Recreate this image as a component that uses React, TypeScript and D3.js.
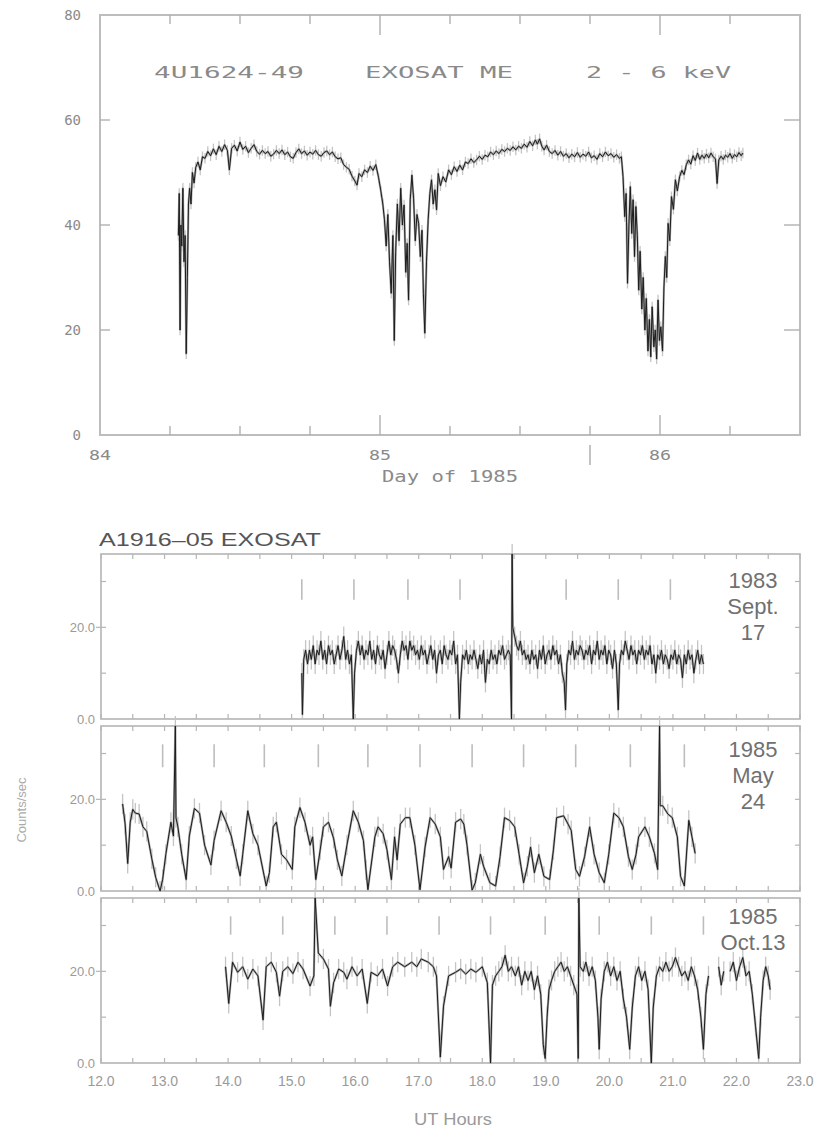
import React from "react";
import * as d3 from "d3";

// ---- 4U1624-49 light curve (day of 1985, counts) ----
const topCurve: [number, number][] = [
  [84.280, 38], [84.283, 46], [84.286, 20], [84.289, 40], [84.292, 36], [84.296, 47], [84.300, 33],
  [84.304, 38], [84.308, 15.5], [84.312, 30], [84.316, 44], [84.320, 47], [84.325, 44], [84.330, 50],
  [84.336, 48], [84.342, 51], [84.350, 52], [84.358, 50.5], [84.366, 53], [84.375, 52.7], [84.385, 54],
  [84.395, 53.2], [84.405, 54.5], [84.415, 53.4], [84.425, 55], [84.435, 54], [84.445, 55.3], [84.455, 54.2],
  [84.462, 50.5], [84.470, 54.6], [84.480, 55.2], [84.490, 54.1], [84.500, 55.8], [84.510, 54.4], [84.520, 55],
  [84.530, 53.8], [84.540, 54.6], [84.550, 55.3], [84.560, 54], [84.570, 53.5], [84.580, 54.2], [84.590, 53.6],
  [84.600, 54], [84.610, 53.1], [84.620, 53.5], [84.630, 54.2], [84.640, 53.6], [84.650, 54.3], [84.660, 53.4],
  [84.670, 53.9], [84.680, 53], [84.690, 52.7], [84.700, 53.8], [84.710, 54.5], [84.720, 53.6], [84.730, 54.1],
  [84.740, 53.3], [84.750, 53.9], [84.760, 53.5], [84.770, 54.2], [84.780, 53.4], [84.790, 53.1], [84.800, 53.8],
  [84.810, 54.1], [84.820, 53.4], [84.830, 53.9], [84.840, 53], [84.850, 52.6], [84.860, 52.8], [84.870, 51.5],
  [84.880, 51], [84.890, 50.6], [84.900, 49.3], [84.910, 48.4], [84.918, 47.6], [84.925, 49.8], [84.935, 49.2],
  [84.945, 50.5], [84.955, 50], [84.965, 51.2], [84.975, 50.4], [84.985, 51.5], [84.995, 49], [85.003, 46.5],
  [85.010, 44], [85.016, 41], [85.022, 36], [85.028, 42], [85.034, 33], [85.040, 27], [85.046, 38], [85.051, 18],
  [85.056, 35], [85.062, 44], [85.068, 37], [85.074, 47], [85.080, 40], [85.086, 43.8], [85.092, 31],
  [85.097, 36.5], [85.102, 25.7], [85.108, 44.8], [85.114, 49.5], [85.120, 45], [85.126, 37], [85.132, 42],
  [85.138, 40.3], [85.144, 34], [85.150, 39], [85.155, 27], [85.160, 19.4], [85.166, 33], [85.172, 41],
  [85.178, 46], [85.184, 48.6], [85.190, 44], [85.196, 46.7], [85.202, 42.9], [85.208, 49.8], [85.216, 47.5],
  [85.225, 49.2], [85.235, 48.2], [85.245, 50.5], [85.255, 49.6], [85.265, 51.1], [85.275, 50.2], [85.285, 51.4],
  [85.295, 50.5], [85.305, 52], [85.315, 51.7], [85.325, 52.6], [85.335, 51.9], [85.345, 52.4], [85.355, 53.1],
  [85.365, 52.5], [85.375, 53.3], [85.385, 53], [85.395, 53.9], [85.405, 53.4], [85.415, 54.1], [85.425, 53.6],
  [85.435, 54.4], [85.445, 54], [85.455, 54.6], [85.465, 54.2], [85.475, 54.9], [85.485, 54.3], [85.495, 55],
  [85.505, 54.6], [85.515, 55.4], [85.525, 54.8], [85.535, 55.9], [85.545, 55.1], [85.555, 56.2], [85.562, 55.4],
  [85.570, 56.4], [85.578, 55], [85.586, 54.3], [85.595, 55.2], [85.605, 54], [85.615, 53.6], [85.625, 54.2],
  [85.635, 53.3], [85.645, 54], [85.655, 53.1], [85.665, 53.6], [85.675, 52.8], [85.685, 53.5], [85.695, 53],
  [85.705, 53.8], [85.715, 52.9], [85.725, 53.5], [85.735, 53.1], [85.745, 53.9], [85.755, 52.8], [85.765, 53.2],
  [85.775, 52.5], [85.785, 53.6], [85.795, 53], [85.805, 53.9], [85.815, 53.2], [85.825, 53.6], [85.835, 52.9],
  [85.845, 53.4], [85.855, 52.7], [85.862, 53], [85.868, 49.2], [85.874, 41.6], [85.879, 46], [85.884, 28.9],
  [85.889, 40], [85.894, 47.3], [85.899, 38.4], [85.904, 44.8], [85.909, 34], [85.914, 43.5], [85.919, 38],
  [85.924, 27.6], [85.929, 35], [85.935, 24], [85.940, 30], [85.946, 20], [85.951, 26], [85.957, 16], [85.962, 22],
  [85.967, 14.9], [85.972, 24.4], [85.978, 16.8], [85.983, 20], [85.988, 14.5], [85.993, 25.7], [85.998, 18],
  [86.003, 20.6], [86.009, 16], [86.014, 28], [86.019, 34], [86.024, 30], [86.029, 40.3], [86.035, 37],
  [86.041, 45.4], [86.048, 43], [86.055, 48.6], [86.062, 46.5], [86.070, 49.2], [86.078, 50.4], [86.086, 49.6],
  [86.094, 51.5], [86.102, 52.4], [86.110, 51.6], [86.118, 53.2], [86.126, 52.3], [86.134, 53.7], [86.142, 52.5],
  [86.150, 53.3], [86.158, 52.7], [86.166, 53.5], [86.174, 52.8], [86.182, 53.7], [86.190, 53], [86.198, 52.6],
  [86.204, 47.9], [86.210, 52.4], [86.218, 53.1], [86.226, 52.5], [86.234, 53.3], [86.242, 52.9], [86.250, 53.6],
  [86.258, 52.7], [86.266, 53.4], [86.274, 53], [86.282, 53.8], [86.290, 53.2], [86.296, 53.7],
];
const topYTicks = [0, 20, 40, 60, 80];
const topXLabels = [84, 85, 86];

// ---- A1916-05 light curves (UT hours, counts/sec) ----
const sept17: [number, number][] = [
  [15.16, 10], [15.17, 1], [15.19, 13], [15.22, 15], [15.25, 12], [15.28, 15], [15.31, 13], [15.34, 16],
  [15.37, 12], [15.40, 15], [15.43, 14], [15.46, 17], [15.49, 13], [15.52, 15], [15.55, 12], [15.58, 16],
  [15.61, 14], [15.64, 15], [15.67, 12], [15.70, 14], [15.73, 16], [15.76, 13], [15.79, 15], [15.82, 18],
  [15.85, 13], [15.88, 15], [15.91, 12], [15.94, 14], [15.97, 0], [15.99, 10], [16.02, 15], [16.05, 17],
  [16.08, 14], [16.11, 16], [16.14, 13], [16.17, 15], [16.20, 14], [16.23, 17], [16.26, 13], [16.29, 15],
  [16.32, 12], [16.35, 16], [16.38, 14], [16.41, 13], [16.44, 15], [16.47, 11], [16.50, 14], [16.53, 17],
  [16.56, 14], [16.59, 16], [16.62, 15], [16.65, 13], [16.68, 10], [16.71, 14], [16.74, 17], [16.77, 15],
  [16.80, 16], [16.83, 13], [16.86, 17], [16.89, 15], [16.92, 16], [16.95, 14], [16.98, 15], [17.01, 13],
  [17.04, 16], [17.07, 14], [17.10, 15], [17.13, 12], [17.16, 14], [17.19, 16], [17.22, 13], [17.25, 15],
  [17.28, 10], [17.31, 14], [17.34, 15], [17.37, 12], [17.40, 16], [17.43, 14], [17.46, 13], [17.49, 15],
  [17.52, 14], [17.55, 17], [17.58, 12], [17.61, 14], [17.64, 0], [17.66, 8], [17.69, 14], [17.72, 13],
  [17.75, 15], [17.78, 12], [17.81, 14], [17.84, 13], [17.87, 15], [17.90, 13], [17.93, 11], [17.96, 14],
  [17.99, 12], [18.02, 15], [18.05, 8], [18.08, 13], [18.11, 12], [18.14, 15], [18.17, 13], [18.20, 14],
  [18.23, 12], [18.26, 15], [18.29, 14], [18.32, 16], [18.35, 13], [18.38, 14], [18.41, 15], [18.44, 14],
  [18.46, 0], [18.47, 36], [18.48, 20], [18.51, 18], [18.54, 16], [18.57, 15], [18.60, 17], [18.63, 14],
  [18.66, 15], [18.69, 13], [18.72, 14], [18.75, 12], [18.78, 15], [18.81, 13], [18.84, 14], [18.87, 11],
  [18.90, 15], [18.93, 13], [18.96, 16], [18.99, 12], [19.02, 14], [19.05, 15], [19.08, 13], [19.11, 16],
  [19.14, 14], [19.17, 15], [19.20, 12], [19.23, 14], [19.26, 10], [19.29, 8], [19.31, 2], [19.33, 12],
  [19.36, 15], [19.39, 14], [19.42, 17], [19.45, 13], [19.48, 15], [19.51, 14], [19.54, 16], [19.57, 15],
  [19.60, 13], [19.63, 15], [19.66, 14], [19.69, 16], [19.72, 12], [19.75, 15], [19.78, 14], [19.81, 17],
  [19.84, 13], [19.87, 15], [19.90, 14], [19.93, 16], [19.96, 12], [19.99, 15], [20.02, 14], [20.05, 11],
  [20.08, 15], [20.11, 12], [20.14, 2], [20.16, 12], [20.19, 15], [20.22, 14], [20.25, 17], [20.28, 15],
  [20.31, 13], [20.34, 16], [20.37, 14], [20.40, 15], [20.43, 12], [20.46, 15], [20.49, 14], [20.52, 16],
  [20.55, 13], [20.58, 15], [20.61, 14], [20.64, 16], [20.67, 12], [20.70, 14], [20.73, 10], [20.76, 14],
  [20.79, 13], [20.82, 15], [20.85, 12], [20.88, 14], [20.91, 13], [20.94, 11], [20.97, 14], [21.00, 13],
  [21.03, 15], [21.06, 12], [21.09, 14], [21.12, 13], [21.15, 9], [21.18, 14], [21.21, 12], [21.24, 15],
  [21.27, 13], [21.30, 14], [21.33, 10], [21.36, 13], [21.39, 15], [21.42, 12], [21.45, 14], [21.48, 12],
];
const may24: [number, number][] = [
  [12.34, 19], [12.38, 14.6], [12.42, 6], [12.46, 15], [12.50, 17.8], [12.54, 17], [12.60, 16.8], [12.66, 14],
  [12.72, 13], [12.80, 7], [12.86, 3], [12.93, 0], [12.97, 2.5], [13.02, 8], [13.10, 15], [13.14, 12],
  [13.17, 36], [13.18, 16], [13.21, 14], [13.27, 8], [13.34, 2.5], [13.39, 12], [13.47, 18], [13.55, 17],
  [13.63, 10], [13.73, 5.7], [13.78, 11], [13.89, 17.5], [13.97, 15], [14.05, 12], [14.13, 7], [14.19, 3.3],
  [14.23, 8], [14.31, 17.5], [14.39, 12.5], [14.47, 10], [14.60, 1.1], [14.65, 4], [14.71, 14], [14.76, 15],
  [14.84, 8], [14.92, 6.8], [15.01, 4.7], [15.05, 14], [15.13, 18.2], [15.21, 15], [15.29, 10], [15.33, 11.8],
  [15.38, 2.5], [15.45, 9], [15.50, 14], [15.58, 15], [15.66, 11.5], [15.72, 6.8], [15.79, 3.3], [15.87, 10],
  [15.97, 17.5], [16.05, 15], [16.13, 11], [16.17, 4.6], [16.20, 0.3], [16.31, 11.8], [16.36, 14], [16.44, 12.5],
  [16.50, 9], [16.57, 2.5], [16.62, 11.8], [16.66, 6.8], [16.71, 14.6], [16.79, 16], [16.86, 16], [16.94, 10],
  [17.02, 0.3], [17.10, 9.6], [17.18, 16], [17.26, 14.6], [17.34, 11.8], [17.39, 4.7], [17.47, 7.5], [17.51, 5],
  [17.58, 15], [17.66, 15.7], [17.71, 14.6], [17.76, 10], [17.84, 0.2], [17.89, 1.8], [17.97, 8], [18.02, 5.4],
  [18.12, 1.8], [18.21, 1.1], [18.28, 7.5], [18.35, 16], [18.43, 15.4], [18.51, 14], [18.58, 8], [18.65, 1.8],
  [18.71, 5.4], [18.76, 9.6], [18.82, 4], [18.89, 8], [18.97, 3.2], [19.06, 2.5], [19.12, 9], [19.17, 16],
  [19.28, 16.4], [19.35, 14.6], [19.40, 13.2], [19.47, 4.7], [19.53, 3.2], [19.61, 7.5], [19.69, 14],
  [19.76, 8], [19.84, 4], [19.92, 1.8], [19.99, 8], [20.07, 17], [20.15, 16], [20.22, 14], [20.30, 7.5],
  [20.36, 4.7], [20.42, 8], [20.46, 11.8], [20.56, 14], [20.63, 11.8], [20.71, 8.2], [20.76, 4.7], [20.79, 36],
  [20.80, 18.6], [20.84, 18.6], [20.92, 16.8], [20.99, 16], [21.07, 11.8], [21.12, 3.2], [21.18, 1.1],
  [21.25, 15.4], [21.30, 11.8], [21.35, 8.2],
];
const oct13: [number, number | null][] = [
  [13.96, 21], [14.01, 13], [14.07, 22], [14.15, 19.8], [14.23, 21], [14.31, 18.3], [14.39, 20.5], [14.47, 19],
  [14.55, 9.4], [14.60, 21], [14.68, 22], [14.76, 19.8], [14.81, 14.6], [14.86, 20], [14.94, 21], [15.02, 19.5],
  [15.10, 22], [15.18, 20.5], [15.29, 16.8], [15.35, 19], [15.37, 36], [15.42, 24], [15.50, 22.7], [15.58, 20.5],
  [15.61, 12.4], [15.66, 17.5], [15.74, 20.5], [15.82, 19.8], [15.87, 18.3], [15.95, 21], [16.03, 19],
  [16.11, 20.5], [16.19, 13], [16.25, 19.8], [16.35, 19], [16.43, 20.5], [16.51, 16.8], [16.59, 21], [16.67, 22],
  [16.78, 21], [16.89, 22], [16.97, 21], [17.04, 22.7], [17.15, 22], [17.23, 21], [17.28, 19], [17.34, 1.3],
  [17.39, 12.4], [17.47, 19], [17.58, 19.8], [17.66, 20.5], [17.74, 19.4], [17.82, 20.5], [17.90, 19.8],
  [18.00, 21], [18.08, 17.5], [18.13, 0], [18.16, 17], [18.21, 19], [18.26, 20], [18.31, 21], [18.36, 23.5],
  [18.41, 20], [18.46, 21], [18.52, 19], [18.57, 21], [18.62, 17], [18.67, 20], [18.72, 18], [18.77, 20],
  [18.82, 16], [18.87, 19], [18.92, 15], [18.96, 4], [18.99, 1], [19.02, 10], [19.05, 16], [19.09, 18],
  [19.14, 20], [19.19, 21], [19.24, 22], [19.29, 20], [19.34, 21], [19.39, 19], [19.44, 17], [19.49, 15],
  [19.51, 1], [19.52, 36], [19.54, 21], [19.59, 20], [19.63, 22], [19.68, 19], [19.73, 21], [19.78, 18],
  [19.82, 10], [19.84, 3], [19.87, 14], [19.92, 20], [19.97, 22], [20.02, 19], [20.07, 21], [20.12, 18],
  [20.17, 20], [20.22, 14], [20.27, 10], [20.32, 3], [20.36, 12], [20.41, 19], [20.46, 21], [20.51, 18],
  [20.56, 20], [20.61, 16], [20.66, 0], [20.69, 12], [20.74, 19], [20.79, 21], [20.84, 20], [20.89, 22],
  [20.94, 20], [20.99, 21], [21.04, 23], [21.09, 21], [21.14, 19], [21.19, 20], [21.24, 18], [21.29, 21],
  [21.34, 19], [21.39, 16], [21.44, 10], [21.48, 3], [21.52, 15], [21.56, 19], [21.62, null],
  [21.72, 21], [21.76, 17], [21.80, 20], [21.85, null],
  [21.90, 20], [21.95, 22], [22.00, 18], [22.05, 21], [22.10, 23], [22.15, 19], [22.20, 20], [22.25, 15],
  [22.30, 8], [22.35, 1], [22.38, 10], [22.42, 18], [22.46, 21], [22.50, 19], [22.53, 16],
];
// dip ephemeris markers (UT hours)
const sept17Marks = [15.16, 15.98, 16.83, 17.65, 19.32, 20.14, 20.96];
const may24Marks = [12.97, 13.78, 14.57, 15.42, 16.2, 17.02, 17.84, 18.65, 19.47, 20.33, 21.18];
const oct13Marks = [14.04, 14.86, 15.68, 16.5, 17.32, 18.13, 18.99, 19.84, 20.66, 21.48];
const panelDates = [["1983", "Sept.", "17"], ["1985", "May", "24"], ["1985", "Oct.13"]];
const hourTicks = [12, 13, 14, 15, 16, 17, 18, 19, 20, 21, 22, 23];
const countLabels = [0, 20];

const MONO = "'DejaVu Sans Mono', 'Liberation Mono', monospace";
const SANS = "'Liberation Sans', Arial, sans-serif";

function Curve({ data, x, y, err }: { data: [number, number | null][]; x: any; y: any; err: number }) {
  const line = d3
    .line<[number, number | null]>()
    .defined(d => d[1] != null)
    .x(d => x(d[0]))
    .y(d => y(d[1] as number));
  const d = line(data) || "";
  const pts = data.filter(p => p[1] != null) as [number, number][];
  return (
    <g fill="none" strokeLinejoin="round">
      <g stroke="#c4c4c4" strokeWidth={1.3}>
        {pts.map((p, i) => (
          <line key={i} x1={x(p[0])} x2={x(p[0])} y1={y(Math.max(0, p[1] - err))} y2={y(p[1] + err)} />
        ))}
      </g>
      <path d={d} stroke="#ababab" strokeWidth={2.2} />
      <path d={d} stroke="#1c1c1c" strokeWidth={1} />
    </g>
  );
}

export default function App() {
  // top chart
  const xT = d3.scaleLinear().domain([84, 86.5]).range([100, 800]);
  const yT = d3.scaleLinear().domain([0, 80]).range([435, 15]);
  const quarterDays = d3.range(84.25, 86.5, 0.25);

  // bottom panels
  const xB = d3.scaleLinear().domain([12, 23]).range([101, 800]);
  const panels = [
    { data: sept17, marks: sept17Marks, range: [719, 554], markV: [26, 30.5], dateY: [580, 606, 632] },
    { data: may24, marks: may24Marks, range: [891, 726], markV: [27, 32], dateY: [749, 775, 801] },
    { data: oct13, marks: oct13Marks, range: [1063, 898], markV: [28, 32], dateY: [916, 942] },
  ];
  const halfHours = xB.ticks(22);

  return (
    <svg width={827} height={1128} style={{ position: "absolute", left: 0, top: 0, background: "#fff" }}>
      {/* ===== top chart ===== */}
      <rect x={100} y={15} width={700} height={420} fill="none" stroke="#bdbdbd" strokeWidth={2} />
      {quarterDays.map(t => {
        const major = Math.abs(t - Math.round(t)) < 1e-6;
        const len = major ? 20 : 9;
        return (
          <g key={t} stroke="#b0b0b0" strokeWidth={1.4}>
            <line x1={xT(t)} x2={xT(t)} y1={yT(0)} y2={yT(0) - len} />
            <line x1={xT(t)} x2={xT(t)} y1={yT(80)} y2={yT(80) + len} />
          </g>
        );
      })}
      {topYTicks.filter(v => v > 0 && v < 80).map(v => (
        <g key={v} stroke="#b0b0b0" strokeWidth={1.4}>
          <line x1={100} x2={110} y1={yT(v)} y2={yT(v)} />
          <line x1={784} x2={800} y1={yT(v)} y2={yT(v)} />
        </g>
      ))}
      {topYTicks.map(v => (
        <text key={v} x={81} y={yT(v) + 5} textAnchor="end" fontFamily={MONO} fontSize={14} fill="#8a8a8a">
          {v}
        </text>
      ))}
      {topXLabels.map(v => (
        <text key={v} x={xT(v) - 11} y={460} fontFamily={MONO} fontSize={14} fill="#8a8a8a" textLength={22} lengthAdjust="spacingAndGlyphs">
          {v}
        </text>
      ))}
      <line x1={xT(85.75)} x2={xT(85.75)} y1={445} y2={465} stroke="#aaa" strokeWidth={1.4} />
      <text x={382} y={482} fontFamily={MONO} fontSize={15} fill="#8a8a8a" textLength={136} lengthAdjust="spacingAndGlyphs">
        Day of 1985
      </text>
      <g fontFamily={MONO} fontSize={16} fill="#8a8a8a">
        <text x={154} y={78} textLength={150} lengthAdjust="spacingAndGlyphs">4U1624-49</text>
        <text x={365} y={78} textLength={148} lengthAdjust="spacingAndGlyphs">EXOSAT ME</text>
        <text x={586} y={78} textLength={145} lengthAdjust="spacingAndGlyphs">2 - 6 keV</text>
      </g>
      <Curve data={topCurve} x={xT} y={yT} err={1} />

      {/* ===== bottom panels ===== */}
      <text x={99} y={546} fontFamily={SANS} fontSize={19} fill="#555" textLength={222} lengthAdjust="spacingAndGlyphs">
        A1916–05 EXOSAT
      </text>
      {panels.map((p, i) => {
        const y = d3.scaleLinear().domain([0, 36]).range(p.range);
        return (
          <g key={i}>
            <rect x={101} y={p.range[1]} width={699} height={p.range[0] - p.range[1]} fill="none" stroke="#b5b5b5" strokeWidth={1.6} />
            {halfHours.map(h => (
              <g key={h} stroke="#b5b5b5" strokeWidth={1.2}>
                <line x1={xB(h)} x2={xB(h)} y1={y(0)} y2={y(0) - 5} />
                <line x1={xB(h)} x2={xB(h)} y1={y(36)} y2={y(36) + 5} />
              </g>
            ))}
            {[10, 20, 30].map(v => (
              <g key={v} stroke="#b5b5b5" strokeWidth={1.2}>
                <line x1={101} x2={106} y1={y(v)} y2={y(v)} />
                <line x1={795} x2={800} y1={y(v)} y2={y(v)} />
              </g>
            ))}
            <line x1={96} x2={101} y1={y(20)} y2={y(20)} stroke="#b5b5b5" strokeWidth={1.2} />
            {countLabels.map(v => (
              <text key={v} x={95} y={y(v) + 5} textAnchor="end" fontFamily={SANS} fontSize={13} fill="#9a9a9a">
                {d3.format(".1f")(v)}
              </text>
            ))}
            {p.marks.map(h => (
              <line key={h} x1={xB(h)} x2={xB(h)} y1={y(p.markV[1])} y2={y(p.markV[0])} stroke="#bdbdbd" strokeWidth={1.6} />
            ))}
            <Curve data={p.data} x={xB} y={y} err={2.2} />
            {panelDates[i].map((s, k) => (
              <text key={k} x={753} y={p.dateY[k] + 8} textAnchor="middle" fontFamily={SANS} fontSize={22} fill="#707070">
                {s}
              </text>
            ))}
          </g>
        );
      })}
      {hourTicks.map(h => (
        <text key={h} x={xB(h)} y={1086} textAnchor="middle" fontFamily={SANS} fontSize={14} fill="#9a9a9a">
          {d3.format(".1f")(h)}
        </text>
      ))}
      <text x={414} y={1125} fontFamily={SANS} fontSize={16} fill="#9a9a9a" textLength={78} lengthAdjust="spacingAndGlyphs">
        UT Hours
      </text>
      <text transform="translate(26,810) rotate(-90)" textAnchor="middle" fontFamily={SANS} fontSize={13} fill="#aaa">
        Counts/sec
      </text>
    </svg>
  );
}
